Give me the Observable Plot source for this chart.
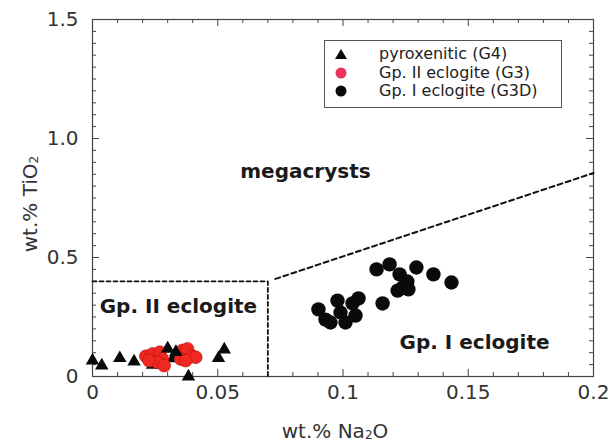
<!DOCTYPE html>
<html><head><meta charset="utf-8">
<script src="https://cdn.jsdelivr.net/npm/d3@7"></script>
<script src="https://cdn.jsdelivr.net/npm/@observablehq/plot@0.6"></script>
<style>
body{margin:0;background:#fff;}
#wrap{position:relative;width:612px;height:443px;overflow:hidden;}
#legend{position:absolute;left:324px;top:40px;width:238px;height:68px;border:1px solid #555;box-sizing:border-box;background:#fff;font-family:"DejaVu Sans";font-size:16px;color:#222;}
.row{position:absolute;left:0;height:18px;line-height:18px;white-space:nowrap;}
.row svg{position:absolute;left:8px;top:2px;}
.row span{position:absolute;left:54px;top:0;}
</style></head><body>
<div id="wrap"><div id="chart"></div><div id="legend"></div></div>
<script>
// Pyroxenitic (G4) — triangles
const g4Na = [0.000, 0.0037, 0.0109, 0.0166, 0.0240, 0.0300, 0.0333, 0.0383, 0.0503, 0.0526, 0.0322];
const g4Ti = [0.067, 0.046, 0.077, 0.063, 0.049, 0.117, 0.102, 0.000, 0.077, 0.113, 0.076];
// Gp. II eclogite (G3) — red circles
const g3Na = [0.0213, 0.0240, 0.0269, 0.0279, 0.0259, 0.0226, 0.0286, 0.0359, 0.0379, 0.0399, 0.0412, 0.0352, 0.0372];
const g3Ti = [0.085, 0.095, 0.102, 0.074, 0.060, 0.067, 0.046, 0.109, 0.116, 0.085, 0.081, 0.074, 0.067];
// Gp. I eclogite (G3D) — black circles
const g3dNa = [0.0902, 0.0930, 0.0950, 0.1010, 0.0978, 0.0990, 0.1038, 0.1062, 0.1050, 0.1158, 0.1134, 0.1186, 0.1226, 0.1293, 0.1361, 0.1433, 0.1257, 0.1238, 0.1218, 0.1261];
const g3dTi = [0.282, 0.239, 0.227, 0.227, 0.319, 0.269, 0.307, 0.328, 0.256, 0.307, 0.450, 0.471, 0.429, 0.458, 0.429, 0.395, 0.399, 0.374, 0.361, 0.366];
// Field boundaries
const gp2BoxNa = [0, 0.07, 0.07];
const gp2BoxTi = [0.40, 0.40, 0];
const megaLineNa = [0.073, 0.2];
const megaLineTi = [0.41, 0.855];
// Field labels
const fieldNames = ["megacrysts", "Gp. II eclogite", "Gp. I eclogite"];
const fieldNa = [0.085, 0.0343, 0.1525];
const fieldTi = [0.861, 0.294, 0.143];
// Ticks
const xTicks = [0, 0.05, 0.1, 0.15, 0.2];
const xTickLabels = ["0", "0.05", "0.1", "0.15", "0.2"];
const yTicks = [0, 0.5, 1.0, 1.5];
const yTickLabels = ["0", "0.5", "1.0", "1.5"];
const xMinor = d3.range(1, 20).map(i => i / 100).filter(v => Math.round(v * 100) % 5 !== 0);
const yMinor = d3.range(1, 30).map(i => i / 20).filter(v => Math.round(v * 20) % 10 !== 0);
const legendLabels = ["pyroxenitic (G4)", "Gp. II eclogite (G3)", "Gp. I eclogite (G3D)"];
const xLabel = "wt.% Na2O";
const yLabel = "wt.% TiO2";

const W = 612, H = 443, mL = 92, mR = 19, mT = 19, mB = 67;
const iW = W - mL - mR, iH = H - mT - mB;
const pts = (xs, ys) => xs.map((x, i) => ({x, y: ys[i]}));
const frameCol = "#444";

const chart = Plot.plot({
  width: W, height: H,
  marginLeft: mL, marginRight: mR, marginTop: mT, marginBottom: mB,
  x: {domain: [0, 0.2]},
  y: {domain: [0, 1.5]},
  style: {fontFamily: "DejaVu Sans", background: "white", overflow: "visible"},
  marks: [
    Plot.axisX(xTicks, {tickSize: 0, tickPadding: 8, fontSize: 20, fill: "#333", label: null,
      tickFormat: d => xTickLabels[xTicks.indexOf(d)]}),
    Plot.axisY(yTicks, {tickSize: 0, tickPadding: 14, fontSize: 20, fill: "#333", label: null,
      tickFormat: d => yTickLabels[yTicks.indexOf(d)]}),
    // inward ticks
    Plot.tickX(xTicks, {x: d => d, insetTop: iH - 7, stroke: frameCol}),
    Plot.tickX(xTicks, {x: d => d, insetBottom: iH - 7, stroke: frameCol}),
    Plot.tickX(xMinor, {x: d => d, insetTop: iH - 4, stroke: frameCol}),
    Plot.tickX(xMinor, {x: d => d, insetBottom: iH - 4, stroke: frameCol}),
    Plot.tickY(yTicks, {y: d => d, insetRight: iW - 7, stroke: frameCol}),
    Plot.tickY(yTicks, {y: d => d, insetLeft: iW - 7, stroke: frameCol}),
    Plot.tickY(yMinor, {y: d => d, insetRight: iW - 4, stroke: frameCol}),
    Plot.tickY(yMinor, {y: d => d, insetLeft: iW - 4, stroke: frameCol}),
    Plot.frame({stroke: frameCol, strokeWidth: 1.2}),
    // field boundaries
    Plot.line(pts(gp2BoxNa, gp2BoxTi), {x: "x", y: "y", stroke: "#111", strokeWidth: 1.8, strokeDasharray: "4,3"}),
    Plot.line(pts(megaLineNa, megaLineTi), {x: "x", y: "y", stroke: "#111", strokeWidth: 2, strokeDasharray: "5,3.5"}),
    // field labels
    Plot.text(fieldNames, {x: (d, i) => fieldNa[i], y: (d, i) => fieldTi[i], text: d => d,
      fontSize: 20, fontWeight: "bold", fill: "#1a1a1a"}),
    // data
    Plot.dot(pts(g3dNa, g3dTi), {x: "x", y: "y", r: 7.2, fill: "#0a0a0a", stroke: "none"}),
    Plot.dot(pts(g4Na, g4Ti), {x: "x", y: "y", r: 5, symbol: "triangle", fill: "#0a0a0a", stroke: "none"}),
    Plot.dot(pts(g3Na, g3Ti), {x: "x", y: "y", r: 6.5, fill: "#f0281f", stroke: "#a01010", strokeWidth: 0.5}),
    Plot.dot(pts(g4Na.slice(5, 7), g4Ti.slice(5, 7)), {x: "x", y: "y", r: 5, symbol: "triangle", fill: "#0a0a0a", stroke: "none"}),
    // axis labels
    Plot.text([xLabel], {frameAnchor: "bottom", dx: -8, dy: 55, text: d => d, fontSize: 20, fill: "#333", lineAnchor: "middle", textAnchor: "middle"}),
    Plot.text([yLabel], {frameAnchor: "left", dx: -62, dy: 6, rotate: -90, text: d => d, fontSize: 20, fill: "#333", lineAnchor: "middle", textAnchor: "middle"})
  ]
});
document.getElementById("chart").appendChild(chart);

// subscripts in axis labels
chart.querySelectorAll("text").forEach(t => {
  const s = t.textContent;
  if (s === xLabel || s === yLabel) {
    const tgt = t.querySelector("tspan") || t;
    tgt.textContent = "";
    const ns = "http://www.w3.org/2000/svg";
    const a = document.createElementNS(ns, "tspan"); a.textContent = s === xLabel ? "wt.% Na" : "wt.% TiO";
    const b = document.createElementNS(ns, "tspan"); b.textContent = "2"; b.setAttribute("font-size", "12"); b.setAttribute("dy", "1");
    tgt.appendChild(a); tgt.appendChild(b);
    if (s === xLabel) { const c = document.createElementNS(ns, "tspan"); c.textContent = "O"; c.setAttribute("dy", "-1"); tgt.appendChild(c); }
  }
});

// legend
const lg = document.getElementById("legend");
const sym = [
  '<svg width="16" height="14"><path d="M8 2 L14 12 L2 12 Z" fill="#0a0a0a"/></svg>',
  '<svg width="16" height="14"><circle cx="8" cy="7" r="5.5" fill="#e8345a"/></svg>',
  '<svg width="16" height="14"><circle cx="8" cy="7" r="5.5" fill="#0a0a0a"/></svg>'
];
legendLabels.forEach((lab, i) => {
  const r = document.createElement("div");
  r.className = "row";
  r.style.top = (4 + i * 18.5) + "px";
  r.innerHTML = sym[i] + '<span>' + lab + '</span>';
  lg.appendChild(r);
});
</script>
</body></html>
